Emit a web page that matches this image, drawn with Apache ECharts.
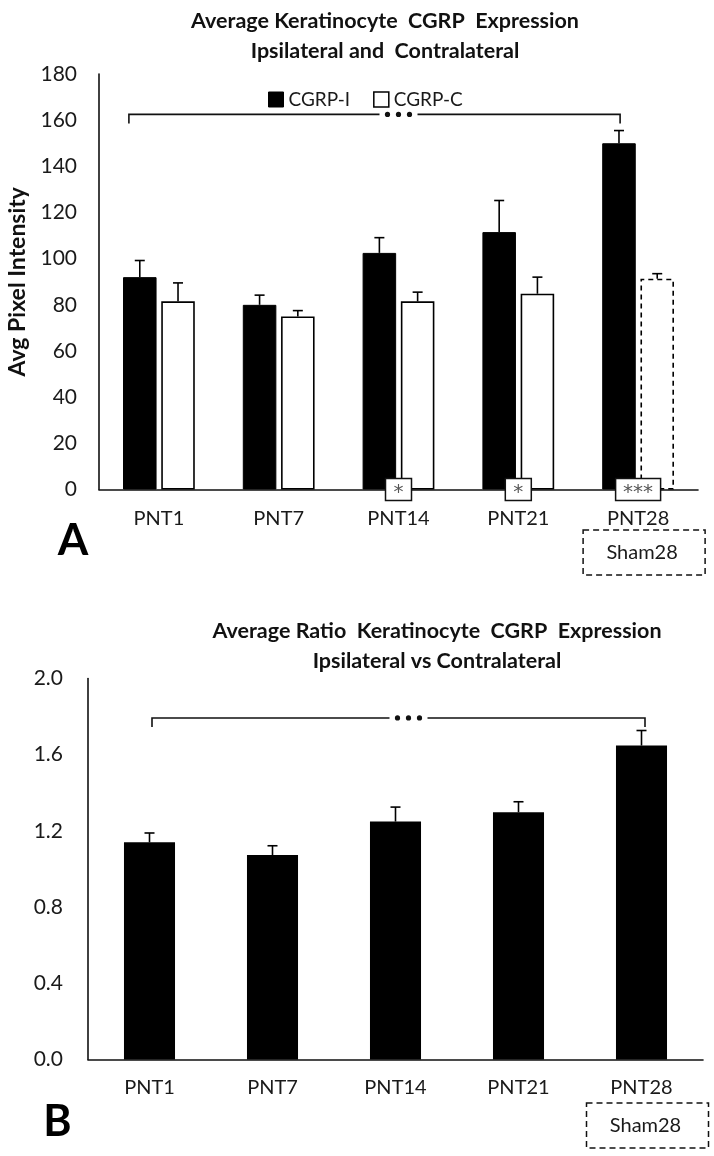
<!DOCTYPE html>
<html><head><meta charset="utf-8">
<script src="https://cdn.jsdelivr.net/npm/echarts@6/dist/echarts.min.js"></script>
<style>html,body{margin:0;padding:0;background:#fff}#c{width:714px;height:1156px}</style>
</head><body><div id="c"></div>
<script>
// ---- data ----
const categories = ['PNT1', 'PNT7', 'PNT14', 'PNT21', 'PNT28'];
const cgrpI      = [92, 80, 102.5, 111.5, 150];
const cgrpIErr   = [7.2, 4.2, 6.6, 13.7, 5.5];
const cgrpC      = [81.5, 75, 81.5, 84.8, 91.3];
const cgrpCErr   = [8, 2.5, 4, 7.2, 2.2];
const ratio      = [1.14, 1.073, 1.249, 1.298, 1.648];
const ratioErr   = [0.049, 0.049, 0.076, 0.055, 0.079];
const sigA       = ['', '', '*', '*', '***'];
const yTicksA    = [0, 20, 40, 60, 80, 100, 120, 140, 160, 180];
const yTicksB    = [0.0, 0.4, 0.8, 1.2, 1.6, 2.0];
const titleA = ['Average Keratinocyte  CGRP  Expression', 'Ipsilateral and  Contralateral'];
const titleB = ['Average Ratio  Keratinocyte  CGRP  Expression', 'Ipsilateral vs Contralateral'];
const shamLabel = 'Sham28';
const bracketA = 162.5, bracketB = 1.793;

const FONT = 'Lato';
const chart = echarts.init(document.getElementById('c'), null, {renderer: 'canvas'});

const BW_A = 0.28, GAP_A = 0.14, BW_B = 0.415;

function errSeries(xi, vals, errs, offsetFn) {
  return {
    type: 'custom', xAxisIndex: xi, yAxisIndex: xi, z: 5, silent: true,
    data: vals.map((v, i) => [i, v, v + errs[i]]),
    renderItem: (params, api) => {
      const band = api.size([1, 0])[0];
      const off = offsetFn(band);
      const p0 = api.coord([api.value(0), api.value(1)]);
      const p1 = api.coord([api.value(0), api.value(2)]);
      const x = p0[0] + off;
      const st = {stroke: '#000', lineWidth: 1.6};
      return {type: 'group', children: [
        {type: 'line', shape: {x1: x, y1: p0[1], x2: x, y2: p1[1]}, style: st},
        {type: 'line', shape: {x1: x - 5, y1: p1[1], x2: x + 5, y2: p1[1]}, style: st}
      ]};
    }
  };
}
const offA = (i) => (band) => { const w = band * BW_A, g = w * GAP_A; return (i === 0 ? -1 : 1) * (w + g) / 2; };

const axisText = {fontFamily: FONT, fontSize: 21, color: '#1a1a1a'};
const titleStyle = {fontFamily: FONT, fontSize: 21.5, fontWeight: 'bold', color: '#111', lineHeight: 30};

chart.setOption({
  animation: false,
  backgroundColor: '#fff',
  textStyle: {fontFamily: FONT},
  title: [
    {text: titleA.join('\n'), left: 380, top: 1, textAlign: 'center', textStyle: titleStyle},
    {text: titleB.join('\n'), left: 432, top: 611, textAlign: 'center', textStyle: titleStyle}
  ],
  legend: {
    left: 263, top: 85, itemWidth: 15, itemHeight: 15, itemGap: 23, icon: 'rect',
    textStyle: {fontFamily: FONT, fontSize: 19, color: '#1a1a1a'},
    data: [
      {name: 'CGRP-I', itemStyle: {color: '#000', borderColor: '#000', borderWidth: 1}},
      {name: 'CGRP-C', itemStyle: {color: '#fff', borderColor: '#000', borderWidth: 1.5}}
    ]
  },
  grid: [
    {left: 99, top: 74, width: 599, height: 415.5, outerBoundsMode: 'none'},
    {left: 88, top: 678.5, width: 615, height: 381, outerBoundsMode: 'none'}
  ],
  xAxis: [
    {type: 'category', gridIndex: 0, data: categories,
     axisLine: {lineStyle: {color: '#111', width: 1.6}}, axisTick: {show: false},
     axisLabel: {margin: 19, fontSize: 20, fontFamily: FONT, color: '#1a1a1a'}},
    {type: 'category', gridIndex: 1, data: categories,
     axisLine: {lineStyle: {color: '#111', width: 1.6}}, axisTick: {show: false},
     axisLabel: {margin: 18, fontSize: 20, fontFamily: FONT, color: '#1a1a1a'}}
  ],
  yAxis: [
    {type: 'value', gridIndex: 0, min: yTicksA[0], max: yTicksA[yTicksA.length - 1], interval: yTicksA[1] - yTicksA[0],
     axisLine: {show: true, lineStyle: {color: '#111', width: 1.6}}, axisTick: {show: false}, splitLine: {show: false},
     axisLabel: Object.assign({margin: 22}, axisText),
     name: 'Avg Pixel Intensity', nameLocation: 'middle', nameRotate: 90, nameGap: 65,
     nameTextStyle: {fontFamily: FONT, fontSize: 23, fontWeight: 'bold', color: '#111'}},
    {type: 'value', gridIndex: 1, min: yTicksB[0], max: yTicksB[yTicksB.length - 1], interval: yTicksB[1] - yTicksB[0],
     axisLine: {show: true, lineStyle: {color: '#111', width: 1.6}}, axisTick: {show: false}, splitLine: {show: false},
     axisLabel: Object.assign({margin: 25, formatter: (v) => v.toFixed(1)}, axisText)}
  ],
  series: [
    {name: 'CGRP-I', type: 'bar', xAxisIndex: 0, yAxisIndex: 0, barWidth: (BW_A * 100) + '%', barGap: (GAP_A * 100) + '%',
     itemStyle: {color: '#000', borderColor: '#000', borderWidth: 1}, data: cgrpI},
    {name: 'CGRP-C', type: 'bar', xAxisIndex: 0, yAxisIndex: 0, barWidth: (BW_A * 100) + '%', barGap: (GAP_A * 100) + '%',
     itemStyle: {color: '#fff', borderColor: '#000', borderWidth: 1.6},
     data: cgrpC.map((v, i) => i === 4 ? {value: v, itemStyle: {borderType: [5, 4]}} : v)},
    errSeries(0, cgrpI, cgrpIErr, offA(0)),
    errSeries(0, cgrpC, cgrpCErr, offA(1)),
    {name: 'Ratio', type: 'bar', xAxisIndex: 1, yAxisIndex: 1, barWidth: (BW_B * 100) + '%',
     itemStyle: {color: '#000'}, data: ratio},
    errSeries(1, ratio, ratioErr, () => 0)
  ]
});

// ---- annotations (positions derived from the axes) ----
function px(grid, xi, y) { return chart.convertToPixel({gridIndex: grid}, [xi, y]); }
const g = [];
const lineSt = {stroke: '#111', lineWidth: 1.6, fill: null};

function bracket(grid, yv, leftOff, rightOff, dotOff) {
  const pl = px(grid, 0, yv), pr = px(grid, 4, yv), pm = px(grid, 2, yv);
  const y = pl[1];
  const xl = pl[0] + leftOff, xr = pr[0] + rightOff, xm = pm[0] + dotOff;
  g.push({type: 'polyline', shape: {points: [[xl, y + 9], [xl, y], [xm - 19, y]]}, style: lineSt, z: 10});
  g.push({type: 'polyline', shape: {points: [[xm + 19, y], [xr, y], [xr, y + 9]]}, style: lineSt, z: 10});
  [-11, 0, 11].forEach(d => g.push({type: 'circle', shape: {cx: xm + d, cy: y, r: 2.6}, style: {fill: '#111'}, z: 10}));
}
bracket(0, bracketA, -30, -18, 0);
bracket(1, bracketB, 2.5, 3.5, 13);

sigA.forEach((s, i) => {
  if (!s) return;
  const p = px(0, i, 0);
  const w = s.length > 1 ? 45 : 26;
  g.push({type: 'rect', shape: {x: p[0] - w / 2, y: p[1] - 11, width: w, height: 22},
          style: {fill: '#fff', stroke: '#111', lineWidth: 1.5}, z: 20});
  g.push({type: 'text', x: p[0], y: p[1] + 3, z: 21,
          style: {text: s, fontFamily: 'DejaVu Sans', fontSize: 20, fill: '#555', align: 'center', verticalAlign: 'middle'}});
});

function sham(grid, topOff) {
  const p = px(grid, 4, 0);
  const cx = p[0] + 6, top = p[1] + topOff;
  g.push({type: 'rect', shape: {x: cx - 61, y: top, width: 122, height: 45},
          style: {fill: null, stroke: '#111', lineWidth: 1.5, lineDash: [6, 4]}, z: 20});
  g.push({type: 'text', x: cx - 2, y: top + 23, z: 21,
          style: {text: shamLabel, fontFamily: FONT, fontSize: 20, fill: '#1a1a1a', align: 'center', verticalAlign: 'middle'}});
}
sham(0, 40.5);
sham(1, 43.5);

g.push({type: 'text', x: 73, y: 541, style: {text: 'A', fontFamily: FONT, fontWeight: 'bold', fontSize: 44, fill: '#000', align: 'center', verticalAlign: 'middle'}});
g.push({type: 'text', x: 57.5, y: 1122, style: {text: 'B', fontFamily: FONT, fontWeight: 'bold', fontSize: 43, fill: '#000', align: 'center', verticalAlign: 'middle'}});

chart.setOption({graphic: g});
</script>
</body></html>
